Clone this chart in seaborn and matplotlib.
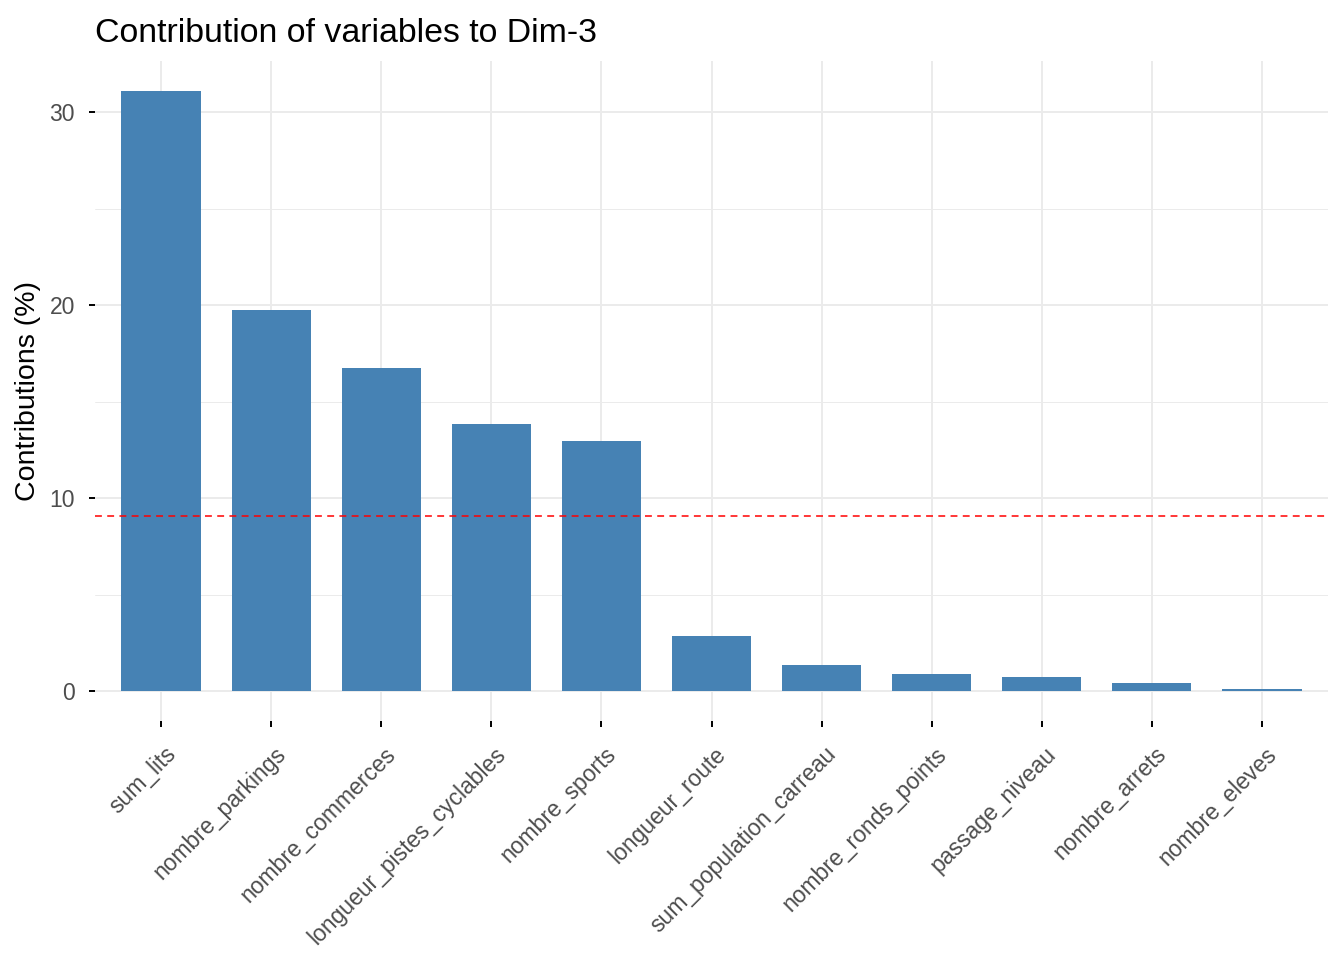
import matplotlib
matplotlib.use("Agg")
import matplotlib.pyplot as plt
import matplotlib.transforms as mtransforms
import seaborn as sns
import pandas as pd

variables = ['sum_lits', 'nombre_parkings', 'nombre_commerces', 'longueur_pistes_cyclables',
             'nombre_sports', 'longueur_route', 'sum_population_carreau', 'nombre_ronds_points',
             'passage_niveau', 'nombre_arrets', 'nombre_eleves']
contrib = [31.1, 19.75, 16.75, 13.85, 12.95, 2.85, 1.33, 0.86, 0.75, 0.39, 0.08]
expected = 100 / len(variables)

df = pd.DataFrame({'variable': variables, 'contrib': contrib})

sns.set_theme(style="white")
plt.rcParams['font.family'] = ['Liberation Sans', 'DejaVu Sans']

fig = plt.figure(figsize=(13.44, 9.6), dpi=100)
ax = fig.add_axes([95 / 1344, 1 - 721 / 960, (1328 - 95) / 1344, (721 - 61) / 960])

# grid like ggplot theme_minimal
for y in [5, 15, 25]:
    ax.axhline(y, color='#EBEBEB', lw=0.7, zorder=0)
for y in [0, 10, 20, 30]:
    ax.axhline(y, color='#EBEBEB', lw=1.4, zorder=0)
for i in range(len(variables)):
    ax.axvline(i, color='#EBEBEB', lw=1.4, zorder=0)

sns.barplot(data=df, x='variable', y='contrib', color='#4682B4', saturation=1,
            width=0.72, linewidth=0, ax=ax, zorder=2)
ax.axhline(expected, color='red', lw=1.1, ls=(0, (4.5, 3.5)), zorder=3)

top = max(contrib)
ax.set_ylim(-0.05 * top, top * 1.05)
ax.set_xlim(-0.6, len(variables) - 0.4)
ax.set_yticks([0, 10, 20, 30])

for s in ax.spines.values():
    s.set_visible(False)
ax.tick_params(axis='both', which='major', length=4.5, width=1.4, color='black',
               labelcolor='#4D4D4D', labelsize=16.5, bottom=True, left=True)
ax.tick_params(axis='y', pad=10)
ax.tick_params(axis='x', pad=11)
ax.set_xticks(range(len(variables)))
ax.set_xticklabels(variables, rotation=45, ha='right', va='top', rotation_mode='anchor')
shift = mtransforms.ScaledTranslation(3 / 100, 0, fig.dpi_scale_trans)
for lab in ax.get_xticklabels():
    lab.set_transform(lab.get_transform() + shift)

ax.set_xlabel('')
ax.set_ylabel('Contributions (%)', fontsize=20.5, color='black', labelpad=6)
ax.set_title('Contribution of variables to Dim-3', loc='left', fontsize=24.4,
             color='black', pad=14)
ax.title.set_position((0.0015, 1))

fig.savefig('out.png', dpi=100)
